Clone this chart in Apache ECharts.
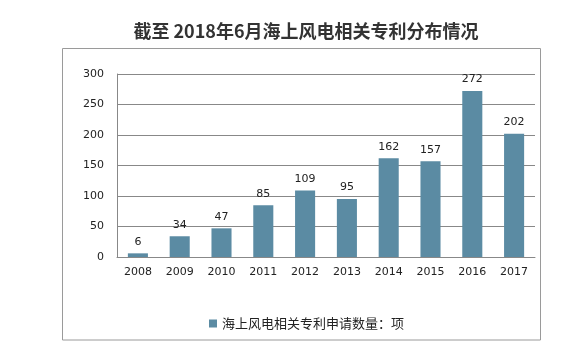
<!DOCTYPE html>
<html><head><meta charset="utf-8">
<script src="https://cdn.jsdelivr.net/npm/echarts@6/dist/echarts.min.js"></script>
<style>html,body{margin:0;padding:0;background:#fff}#c{width:566px;height:349px}</style>
</head><body><div id="c"></div>
<script>
const titleText = '截至 2018年6月海上风电相关专利分布情况';
const seriesName = '海上风电相关专利申请数量：项';
const categories = ['2008','2009','2010','2011','2012','2013','2014','2015','2016','2017'];
const values = [6,34,47,85,109,95,162,157,272,202];
const yTicks = [0,50,100,150,200,250,300];

const chart = echarts.init(document.getElementById('c'), null, {renderer:'canvas'});
chart.setOption({
  animation:false,
  backgroundColor:'#fff',
  title:{text:titleText,left:301,textAlign:'center',top:17,textStyle:{fontFamily:'Noto Sans CJK SC',fontSize:18,fontWeight:'bold',color:'#333'}},
  graphic:[{type:'rect',shape:{x:62.5,y:48.5,width:478,height:291.5},style:{fill:'none',stroke:'#9a9a9a',lineWidth:1},silent:true}],
  grid:{left:117,right:31,top:74,bottom:92},
  legend:{data:[seriesName],top:312,left:204,itemWidth:8,itemHeight:8,itemGap:5,icon:'rect',
    textStyle:{fontFamily:'Noto Sans CJK SC',fontSize:13,color:'#222'}},
  xAxis:{type:'category',data:categories,
    axisLine:{lineStyle:{color:'#888'}},axisTick:{show:false},
    axisLabel:{fontFamily:'DejaVu Sans',fontSize:11,color:'#222',margin:10}},
  yAxis:{type:'value',min:yTicks[0],max:yTicks[yTicks.length-1],interval:50,
    axisLine:{show:true,lineStyle:{color:'#888'}},axisTick:{show:false},
    splitLine:{lineStyle:{color:'#888'}},
    axisLabel:{fontFamily:'DejaVu Sans',fontSize:11,color:'#222',margin:13}},
  series:[{name:seriesName,type:'bar',data:values,barWidth:'48%',
    itemStyle:{color:'#5b8ba3'},
    label:{show:true,position:'top',distance:6,fontFamily:'DejaVu Sans',fontSize:11,color:'#222'}}]
});
</script></body></html>
